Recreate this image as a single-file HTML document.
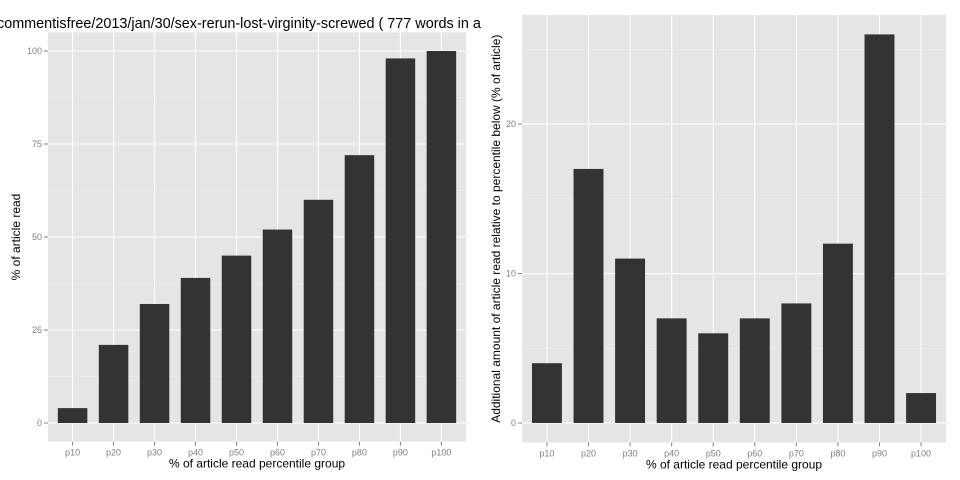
<!DOCTYPE html>
<html><head><meta charset="utf-8"><style>
body{margin:0;background:#fff;}
svg{display:block;font-family:"Liberation Sans",sans-serif;}
</style></head><body>
<svg id="c" width="960" height="480"></svg>
<script>
const categories=["p10","p20","p30","p40","p50","p60","p70","p80","p90","p100"];
const leftValues=[4,21,32,39,45,52,60,72,98,100];
const rightValues=[4,17,11,7,6,7,8,12,26,2];
const leftTicks=[0,25,50,75,100];
const rightTicks=[0,10,20];
const NS="http://www.w3.org/2000/svg";
const svg=document.getElementById('c');
function mk(t,a,p){const e=document.createElementNS(NS,t);for(const k in a)e.setAttribute(k,a[k]);(p||svg).appendChild(e);return e;}
function panel(o){
  const g=mk('g',{});
  
  
  const bg=mk('rect',{x:o.x0,y:o.y0,width:o.x1-o.x0,height:o.y1-o.y0,fill:'#e5e5e5'},g);
  
  
  const ymin=o.vmin, ymax=o.vmax;
  const sy=v=>o.y1-(v-ymin)/(ymax-ymin)*(o.y1-o.y0);
  const n=categories.length, step=(o.x1-o.x0)/(n+0.2);
  const sx=i=>o.x0+step*(0.6+i);
  for(let i=0;i<o.ticks.length-1;i++){const m=(o.ticks[i]+o.ticks[i+1])/2;mk('line',{x1:o.x0,x2:o.x1,y1:sy(m),y2:sy(m),stroke:'#f2f2f2','stroke-width':0.6},g);}
  if(o.extraMinor!==undefined){const m=o.extraMinor;mk('line',{x1:o.x0,x2:o.x1,y1:sy(m),y2:sy(m),stroke:'#f2f2f2','stroke-width':0.6},g);}
  o.ticks.forEach(t=>{
    mk('line',{x1:o.x0,x2:o.x1,y1:sy(t),y2:sy(t),stroke:'#fff','stroke-width':1.1},g);
    mk('line',{x1:o.x0-4,x2:o.x0,y1:sy(t),y2:sy(t),stroke:'#7f7f7f','stroke-width':1},g);
    const tx=mk('text',{x:o.x0-6,y:sy(t)+3,'text-anchor':'end','font-size':9,fill:'#7f7f7f'},g);tx.textContent=t;
    
    
  });
  categories.forEach((c,i)=>{
    mk('line',{x1:sx(i),x2:sx(i),y1:o.y0,y2:o.y1,stroke:'#fff','stroke-width':1.1},g);
    mk('line',{x1:sx(i),x2:sx(i),y1:o.y1,y2:o.y1+4,stroke:'#7f7f7f','stroke-width':1},g);
    const tx=mk('text',{x:sx(i),y:o.y1+14,'text-anchor':'middle','font-size':9,fill:'#7f7f7f'},g);tx.textContent=c;
    
    
  });
  o.values.forEach((v,i)=>{
    const w=step*0.72;
    const r=mk('rect',{x:sx(i)-w/2,y:sy(v),width:w,height:sy(0)-sy(v),fill:'#333333'},g);
    
    
  });
  const xt=mk('text',{x:(o.x0+o.x1)/2,y:o.y1+26,'text-anchor':'middle','font-size':12,fill:'#000'},g);
  xt.textContent='% of article read percentile group';
  
  
  const cy=(o.y0+o.y1)/2;
  const yt=mk('text',{x:o.ytx,y:cy,'text-anchor':'middle','font-size':12,fill:'#000',transform:`rotate(-90 ${o.ytx} ${cy})`},g);
  yt.textContent=o.ytitle;
  
  
}
panel({name:'left-panel',x0:48,x1:466,y0:32.4,y1:441.6,vmin:-5,vmax:105,ticks:leftTicks,values:leftValues,ytitle:'% of article read',ytx:20});
panel({name:'right-panel',x0:522,x1:946,y0:15,y1:442.4,vmin:-1.3,vmax:27.3,ticks:rightTicks,values:rightValues,extraMinor:25,ytitle:'Additional amount of article read relative to percentile below (% of article)',ytx:500});
const ti=mk('text',{x:-3,y:28,'font-size':14.4,fill:'#000'});
ti.textContent='commentisfree/2013/jan/30/sex-rerun-lost-virginity-screwed ( 777 words in a';


</script>
</body></html>
